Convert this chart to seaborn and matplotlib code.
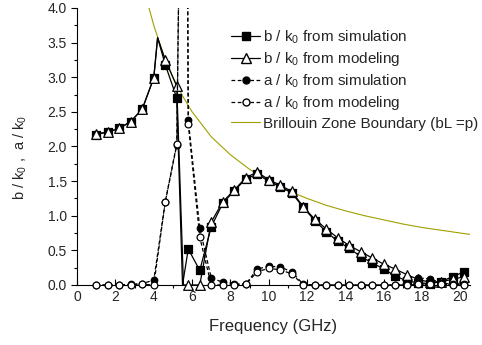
import numpy as np
import pandas as pd
import seaborn as sns
import matplotlib
matplotlib.use('Agg')
import matplotlib.pyplot as plt
from matplotlib.lines import Line2D
from matplotlib.ticker import MultipleLocator, FormatStrFormatter

# Frequencies of the computed points (GHz)
freq = [1.0, 1.6, 2.2, 2.8, 3.4, 4.0, 4.6, 5.2, 5.8, 6.4, 7.0, 7.6, 8.2, 8.8, 9.4,
        10.0, 10.6, 11.2, 11.8, 12.4, 13.0, 13.6, 14.2, 14.8, 15.4, 16.0, 16.6,
        17.2, 17.8, 18.4, 19.0, 19.6, 20.2]

# beta / k0
b_sim = [2.17, 2.21, 2.26, 2.36, 2.54, 2.99, 3.18, 2.70, 0.52, 0.21, 0.84, 1.18,
         1.36, 1.53, 1.60, 1.50, 1.42, 1.33, 1.12, 0.93, 0.77, 0.63, 0.53, 0.41,
         0.32, 0.23, 0.13, 0.06, 0.03, 0.02, 0.05, 0.12, 0.19]
b_mod = [2.18, 2.21, 2.26, 2.36, 2.54, 2.99, 3.25, 2.87, 0.00, 0.00, 0.91, 1.20,
         1.37, 1.55, 1.63, 1.52, 1.44, 1.35, 1.13, 0.95, 0.81, 0.68, 0.57, 0.48,
         0.39, 0.30, 0.23, 0.15, 0.08, 0.04, 0.05, 0.08, 0.12]

# alpha / k0
a_sim = [0.00, 0.00, 0.00, 0.01, 0.02, 0.07, 1.20, 2.02, 2.38, 0.82, 0.10, 0.04,
         0.02, 0.01, 0.23, 0.27, 0.26, 0.19, 0.01, 0.00, 0.00, 0.00, 0.00, 0.00,
         0.00, 0.00, 0.00, 0.02, 0.10, 0.09, 0.03, 0.01, 0.02]
a_mod = [0.00, 0.00, 0.00, 0.00, 0.01, 0.00, 1.20, 2.04, 2.32, 0.69, 0.00, 0.00,
         0.00, 0.01, 0.19, 0.24, 0.22, 0.16, 0.00, 0.00, 0.00, 0.00, 0.00, 0.00,
         0.00, 0.00, 0.00, 0.00, 0.01, 0.01, 0.01, 0.00, 0.00]

# extra curve points (no marker) near the band edge
b_sim_extra_f = [4.2, 5.5]
b_sim_extra = [3.57, 0.0]
b_mod_extra_f = [4.2, 5.55]
b_mod_extra = [3.57, 0.0]
a_extra_f = [5.38, 5.74]
a_extra = [6.0, 6.0]   # off scale

# Brillouin zone boundary
bz_f = [3.75, 4.0, 4.5, 5.0, 5.5, 6.0, 7.0, 8.0, 9.0, 10.0, 11.0, 12.0, 13.0,
        14.0, 15.0, 16.0, 17.0, 18.0, 19.0, 20.0, 20.5]
bz_val = [4.0, 3.75, 3.33, 3.0, 2.73, 2.5, 2.14, 1.88, 1.67, 1.5, 1.36, 1.25,
          1.15, 1.07, 1.0, 0.94, 0.88, 0.83, 0.79, 0.75, 0.73]

labels = ['b / k$_\\mathregular{0}$ from simulation',
          'b / k$_\\mathregular{0}$ from modeling',
          'a / k$_\\mathregular{0}$ from simulation',
          'a / k$_\\mathregular{0}$ from modeling',
          'Brillouin Zone Boundary (bL =p)']

sns.set_style('ticks')
plt.rcParams['font.family'] = ['Liberation Sans', 'DejaVu Sans']
plt.rcParams['mathtext.fontset'] = 'custom'
plt.rcParams['mathtext.rm'] = 'Liberation Sans'


def line_df(f, v, ef, ev):
    d = pd.DataFrame({'f': list(f) + list(ef), 'v': list(v) + list(ev)})
    return d.sort_values('f').reset_index(drop=True)


fig = plt.figure(figsize=(4.82, 3.45), dpi=100)
ax = fig.add_axes([0.160, 0.174, 0.815, 0.803])

dash = (3.0, 2.0)

# Brillouin boundary
sns.lineplot(x=bz_f, y=bz_val, ax=ax, color='#a0a000', lw=0.8, sort=False, zorder=1)

series = [
    (b_sim, b_sim_extra_f, b_sim_extra, 's', 'black', '-', 36),
    (b_mod, b_mod_extra_f, b_mod_extra, '^', 'white', '-', 48),
    (a_sim, a_extra_f, a_extra, 'o', 'black', '--', 22),
    (a_mod, a_extra_f, a_extra, 'o', 'white', '--', 24),
]
z = 2
for vals, ef, ev, mk, fc, ls, sz in series:
    d = line_df(freq, vals, ef, ev)
    n0 = len(ax.lines)
    sns.lineplot(data=d, x='f', y='v', ax=ax, color='black', lw=0.9,
                 estimator=None, sort=True, zorder=z)
    if ls == '--':
        for ln in ax.lines[n0:]:
            ln.set_linestyle((0, dash))
    sns.scatterplot(x=freq, y=vals, ax=ax, marker=mk, s=sz, color=fc,
                    edgecolor='black', linewidth=0.9, zorder=z + 1, clip_on=False)
    z += 2

ax.set_xlim(0, 20.5)
ax.set_ylim(0, 4.0)
ax.xaxis.set_major_locator(MultipleLocator(2))
ax.xaxis.set_minor_locator(MultipleLocator(1))
ax.yaxis.set_major_locator(MultipleLocator(0.5))
ax.yaxis.set_minor_locator(MultipleLocator(0.25))
ax.yaxis.set_major_formatter(FormatStrFormatter('%.1f'))
ax.tick_params(which='major', length=4, width=0.8, labelsize=10, color='black')
ax.tick_params(which='minor', length=2.5, width=0.8, color='black')
ax.tick_params(axis='x', direction='in')
ax.tick_params(axis='y', direction='out')
for s in ['top', 'right']:
    ax.spines[s].set_visible(False)
for s in ['left', 'bottom']:
    ax.spines[s].set_linewidth(0.8)
    ax.spines[s].set_color('black')

ax.set_xlabel('Frequency (GHz)', fontsize=12, labelpad=11)
ax.set_ylabel('b / k$_\\mathregular{0}$ ,  a / k$_\\mathregular{0}$', fontsize=10.5)
ax.yaxis.set_label_coords(-0.122, 0.46)

handles = [
    Line2D([], [], color='black', lw=0.9, marker='s', ms=6, mfc='black', mec='black'),
    Line2D([], [], color='black', lw=0.9, marker='^', ms=7, mfc='white', mec='black'),
    Line2D([], [], color='black', lw=0.9, ls=(0, dash), marker='o', ms=5, mfc='black', mec='black'),
    Line2D([], [], color='black', lw=0.9, ls=(0, dash), marker='o', ms=5, mfc='white', mec='black'),
    Line2D([], [], color='#a0a000', lw=0.8),
]
fig.legend(handles, labels, loc='upper left', bbox_to_anchor=(231 / 482, 1 - 28 / 345),
           frameon=False, fontsize=11, handlelength=1.9, handletextpad=0.2,
           labelspacing=0.28, borderpad=0, borderaxespad=0, numpoints=1)

fig.savefig('out.png', dpi=100)
